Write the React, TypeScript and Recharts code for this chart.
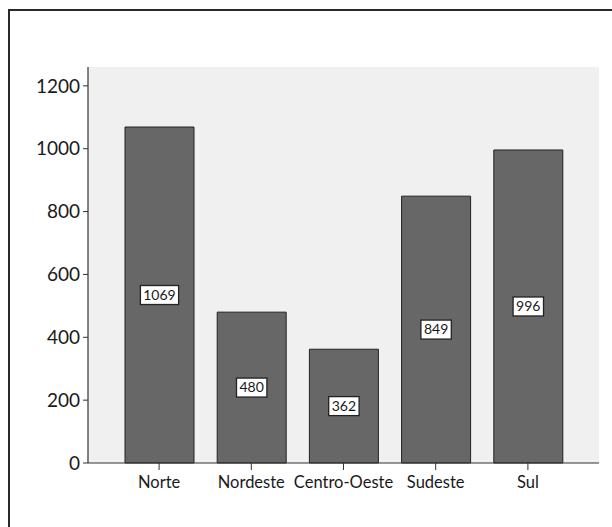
import { BarChart, Bar, XAxis, YAxis, CartesianGrid, LabelList } from 'recharts';

const regions = ['Norte', 'Nordeste', 'Centro-Oeste', 'Sudeste', 'Sul'];
const counts = [1069, 480, 362, 849, 996];
const yTicks = [0, 200, 400, 600, 800, 1000, 1200];

const data = regions.map((region, i) => ({ region, count: counts[i] }));

const FONT = 'Lato, "Open Sans", sans-serif';

function BoxLabel(props: any) {
  const { x, y, width, height, value } = props;
  const text = String(value);
  const w = text.length * 7.8 + 7;
  const h = 19;
  const cx = x + width / 2;
  const cy = y + height / 2;
  return (
    <g>
      <rect x={cx - w / 2} y={cy - h / 2} width={w} height={h} fill="#ffffff" stroke="#222" strokeWidth={1.3} />
      <text x={cx} y={cy + 1} textAnchor="middle" dominantBaseline="middle" fontSize={14} fill="#1a1a1a" fontFamily={FONT}>
        {text}
      </text>
    </g>
  );
}

export default function App() {
  return (
    <div style={{ position: 'absolute', left: 0, top: 0, width: 612, height: 527, overflow: 'hidden', background: '#fff' }}>
      <div
        style={{
          position: 'absolute',
          left: 8,
          top: 9,
          width: 700,
          height: 700,
          border: '2px solid #2a2a2a',
        }}
      />
      <div style={{ position: 'absolute', left: 0, top: 0 }}>
        <BarChart width={612} height={527} data={data} margin={{ top: 67, right: 13, left: 0, bottom: 34 }}>
          <CartesianGrid horizontal={false} vertical={false} fill="#f0f0f0" />
          <XAxis
            xAxisId="top"
            orientation="top"
            dataKey="region"
            height={0}
            tick={false}
            tickLine={false}
            axisLine={{ stroke: '#444', strokeWidth: 1.2 }}
          />
          <YAxis
            yAxisId="right"
            orientation="right"
            width={0}
            tick={false}
            tickLine={false}
            domain={[0, 1260]}
            axisLine={{ stroke: '#444', strokeWidth: 1.2 }}
          />
          <XAxis
            dataKey="region"
            height={30}
            padding={{ left: 25, right: 25 }}
            tickSize={7}
            tickMargin={6}
            tick={{ fill: '#1a1a1a', fontSize: 16.5, fontFamily: FONT }}
            axisLine={{ stroke: '#333', strokeWidth: 1.2 }}
            tickLine={{ stroke: '#333' }}
          />
          <YAxis
            width={88}
            domain={[0, 1260]}
            ticks={yTicks}
            tickSize={5}
            tickMargin={3}
            tick={{ fill: '#1a1a1a', fontSize: 19, fontFamily: FONT }}
            axisLine={{ stroke: '#333', strokeWidth: 1.2 }}
            tickLine={{ stroke: '#333' }}
          />
          <Bar dataKey="count" fill="#676767" stroke="#222" strokeWidth={1} barSize={69} isAnimationActive={false}>
            <LabelList dataKey="count" content={<BoxLabel />} />
          </Bar>
        </BarChart>
      </div>
    </div>
  );
}
